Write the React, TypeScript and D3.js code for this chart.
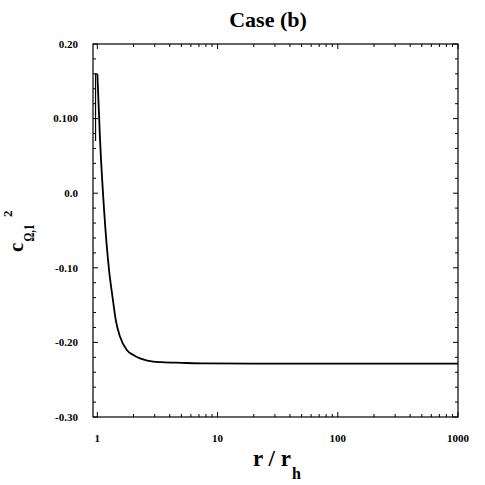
import * as d3 from 'd3'

// r / r_h sample points
const radius = [1.0, 1.053, 1.137, 1.251, 1.318, 1.359, 1.423, 1.545, 1.757, 1.993, 2.265, 2.656, 3.43, 5.04, 7.87, 20, 100, 1000]
const c2 = [0.16, 0.0715, -0.022, -0.103, -0.132, -0.1477, -0.17, -0.1925, -0.2103, -0.217, -0.2215, -0.2247, -0.2265, -0.2274, -0.2282, -0.2285, -0.2285, -0.2285]

// short bracket drawn at the inner edge
const edgeR = [0.966, 0.966, 1.0]
const edgeV = [0.07, 0.16, 0.16]

const xTickValues = [1, 10, 100, 1000]
const xTickLabels = ['1', '10', '100', '1000']
const yTickValues = [0.2, 0.1, 0.0, -0.1, -0.2, -0.3]
const yTickLabels = ['0.20', '0.100', '0.0', '-0.10', '-0.20', '-0.30']

const font = '"Liberation Serif", "Times New Roman", serif'

export default function App() {
  const width = 485,
    height = 485,
    left = 93,
    right = 458,
    top = 44,
    bottom = 417

  const x = d3.scaleLog().domain([0.92, 1000]).range([left, right])
  const y = d3.scaleLinear().domain([-0.3, 0.2]).range([bottom, top])

  const line = d3
    .line<number>()
    .x((d, i) => x(radius[i]))
    .y((d) => y(d))
    .curve(d3.curveMonotoneX)

  const edge = d3
    .line<number>()
    .x((d, i) => x(edgeR[i]))
    .y((d) => y(d))

  const xMinor: number[] = []
  ;[1, 10, 100].forEach((dec) => {
    for (let k = 2; k <= 9; k++) xMinor.push(k * dec)
  })
  const yMinor = d3.range(-15, 11).map((i) => i * 0.02).filter((v) => Math.abs(Math.round(v * 100) % 10) !== 0)

  const major = 5,
    minor = 3

  return (
    <svg width={width} height={height} style={{ position: 'absolute', left: 0, top: 0 }}>
      <rect x={0} y={0} width={width} height={height} fill="#fff" />
      <text x={268} y={27} textAnchor="middle" fontFamily={font} fontWeight="bold" fontSize={22}>
        Case (b)
      </text>

      <g stroke="#000" strokeWidth={1}>
        {xTickValues.map((v) => (
          <g key={'xm' + v}>
            <line x1={x(v)} x2={x(v)} y1={bottom} y2={bottom - major} />
            <line x1={x(v)} x2={x(v)} y1={top} y2={top + major} />
          </g>
        ))}
        {xMinor.map((v) => (
          <g key={'xn' + v}>
            <line x1={x(v)} x2={x(v)} y1={bottom} y2={bottom - minor} />
            <line x1={x(v)} x2={x(v)} y1={top} y2={top + minor} />
          </g>
        ))}
        {yTickValues.map((v) => (
          <g key={'ym' + v}>
            <line x1={left} x2={left + major} y1={y(v)} y2={y(v)} />
            <line x1={right} x2={right - major} y1={y(v)} y2={y(v)} />
          </g>
        ))}
        {yMinor.map((v) => (
          <g key={'yn' + v}>
            <line x1={left} x2={left + minor} y1={y(v)} y2={y(v)} />
            <line x1={right} x2={right - minor} y1={y(v)} y2={y(v)} />
          </g>
        ))}
      </g>

      <rect x={left} y={top} width={right - left} height={bottom - top} fill="none" stroke="#000" strokeWidth={1.2} />

      <path d={line(c2) || ''} fill="none" stroke="#000" strokeWidth={1.8} />
      <path d={edge(edgeV) || ''} fill="none" stroke="#000" strokeWidth={1.2} />

      <g fontFamily={font} fontWeight="bold" fontSize={11}>
        {yTickValues.map((v, i) => (
          <text key={'yl' + v} x={78} y={y(v)} dy="0.35em" textAnchor="end">
            {yTickLabels[i]}
          </text>
        ))}
        {xTickValues.map((v, i) => (
          <text key={'xl' + v} x={x(v)} y={442} textAnchor="middle">
            {xTickLabels[i]}
          </text>
        ))}
      </g>

      <g fontFamily={font} fontWeight="bold">
        <text x={253} y={466} fontSize={23}>
          r / r
        </text>
        <text x={292} y={479} fontSize={16}>
          h
        </text>
      </g>

      <g transform="translate(23,252) rotate(-90)" fontFamily={font} fontWeight="bold">
        <text x={0} y={0} fontSize={21}>
          c
        </text>
        <text x={10.5} y={11} fontSize={14} textLength={17} lengthAdjust="spacingAndGlyphs">
          Ω,1
        </text>
        <text x={35} y={-11.5} fontSize={13}>
          2
        </text>
      </g>
    </svg>
  )
}
